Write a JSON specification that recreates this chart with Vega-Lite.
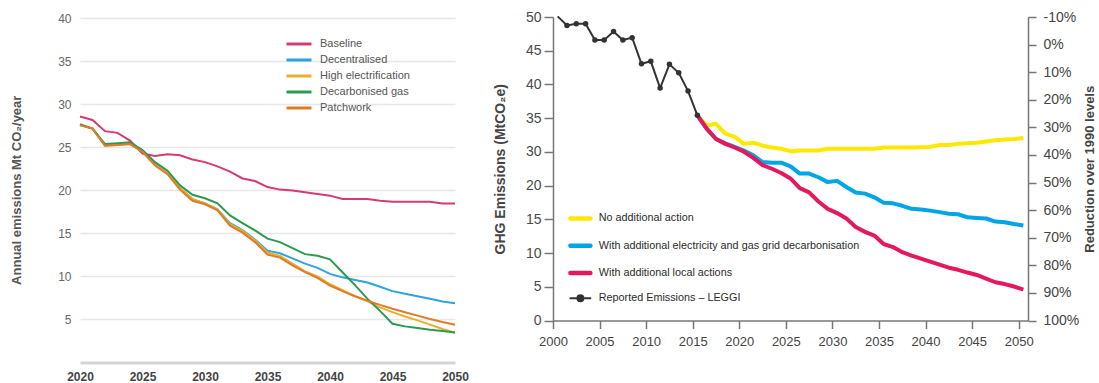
{
  "$schema": "https://vega.github.io/schema/vega-lite/v6.json",
  "padding": {"left": 10, "top": 10, "right": 0, "bottom": 0},
  "background": "white",
  "config": {
    "view": {"stroke": null},
    "font": "Liberation Sans",
    "concat": {"spacing": 24}
  },
  "resolve": {"scale": {"color": "independent"}, "legend": {"color": "independent"}},
  "datasets": {
    "scenarios": [
      {"year":2020,"scenario":"Baseline","value":28.6},{"year":2021,"scenario":"Baseline","value":28.2},{"year":2022,"scenario":"Baseline","value":26.9},{"year":2023,"scenario":"Baseline","value":26.7},{"year":2024,"scenario":"Baseline","value":25.8},{"year":2025,"scenario":"Baseline","value":24.3},{"year":2026,"scenario":"Baseline","value":24.0},{"year":2027,"scenario":"Baseline","value":24.2},{"year":2028,"scenario":"Baseline","value":24.1},{"year":2029,"scenario":"Baseline","value":23.6},{"year":2030,"scenario":"Baseline","value":23.3},{"year":2031,"scenario":"Baseline","value":22.8},{"year":2032,"scenario":"Baseline","value":22.2},{"year":2033,"scenario":"Baseline","value":21.4},{"year":2034,"scenario":"Baseline","value":21.1},{"year":2035,"scenario":"Baseline","value":20.4},{"year":2036,"scenario":"Baseline","value":20.1},{"year":2037,"scenario":"Baseline","value":20.0},{"year":2038,"scenario":"Baseline","value":19.8},{"year":2039,"scenario":"Baseline","value":19.6},{"year":2040,"scenario":"Baseline","value":19.4},{"year":2041,"scenario":"Baseline","value":19.0},{"year":2042,"scenario":"Baseline","value":19.0},{"year":2043,"scenario":"Baseline","value":19.0},{"year":2044,"scenario":"Baseline","value":18.8},{"year":2045,"scenario":"Baseline","value":18.7},{"year":2046,"scenario":"Baseline","value":18.7},{"year":2047,"scenario":"Baseline","value":18.7},{"year":2048,"scenario":"Baseline","value":18.7},{"year":2049,"scenario":"Baseline","value":18.5},{"year":2050,"scenario":"Baseline","value":18.5},
      {"year":2020,"scenario":"Decentralised","value":27.6},{"year":2021,"scenario":"Decentralised","value":27.2},{"year":2022,"scenario":"Decentralised","value":25.3},{"year":2023,"scenario":"Decentralised","value":25.4},{"year":2024,"scenario":"Decentralised","value":25.5},{"year":2025,"scenario":"Decentralised","value":24.6},{"year":2026,"scenario":"Decentralised","value":23.0},{"year":2027,"scenario":"Decentralised","value":22.0},{"year":2028,"scenario":"Decentralised","value":20.3},{"year":2029,"scenario":"Decentralised","value":19.0},{"year":2030,"scenario":"Decentralised","value":18.5},{"year":2031,"scenario":"Decentralised","value":17.8},{"year":2032,"scenario":"Decentralised","value":16.2},{"year":2033,"scenario":"Decentralised","value":15.4},{"year":2034,"scenario":"Decentralised","value":14.3},{"year":2035,"scenario":"Decentralised","value":13.0},{"year":2036,"scenario":"Decentralised","value":12.7},{"year":2037,"scenario":"Decentralised","value":12.1},{"year":2038,"scenario":"Decentralised","value":11.5},{"year":2039,"scenario":"Decentralised","value":11.0},{"year":2040,"scenario":"Decentralised","value":10.3},{"year":2041,"scenario":"Decentralised","value":9.9},{"year":2042,"scenario":"Decentralised","value":9.6},{"year":2043,"scenario":"Decentralised","value":9.3},{"year":2044,"scenario":"Decentralised","value":8.8},{"year":2045,"scenario":"Decentralised","value":8.3},{"year":2046,"scenario":"Decentralised","value":8.0},{"year":2047,"scenario":"Decentralised","value":7.7},{"year":2048,"scenario":"Decentralised","value":7.4},{"year":2049,"scenario":"Decentralised","value":7.1},{"year":2050,"scenario":"Decentralised","value":6.9},
      {"year":2020,"scenario":"High electrification","value":27.6},{"year":2021,"scenario":"High electrification","value":27.2},{"year":2022,"scenario":"High electrification","value":25.2},{"year":2023,"scenario":"High electrification","value":25.3},{"year":2024,"scenario":"High electrification","value":25.4},{"year":2025,"scenario":"High electrification","value":24.6},{"year":2026,"scenario":"High electrification","value":23.0},{"year":2027,"scenario":"High electrification","value":22.0},{"year":2028,"scenario":"High electrification","value":20.3},{"year":2029,"scenario":"High electrification","value":19.0},{"year":2030,"scenario":"High electrification","value":18.5},{"year":2031,"scenario":"High electrification","value":17.8},{"year":2032,"scenario":"High electrification","value":16.1},{"year":2033,"scenario":"High electrification","value":15.3},{"year":2034,"scenario":"High electrification","value":14.2},{"year":2035,"scenario":"High electrification","value":12.8},{"year":2036,"scenario":"High electrification","value":12.4},{"year":2037,"scenario":"High electrification","value":11.5},{"year":2038,"scenario":"High electrification","value":10.6},{"year":2039,"scenario":"High electrification","value":10.0},{"year":2040,"scenario":"High electrification","value":9.1},{"year":2041,"scenario":"High electrification","value":8.4},{"year":2042,"scenario":"High electrification","value":7.7},{"year":2043,"scenario":"High electrification","value":7.1},{"year":2044,"scenario":"High electrification","value":6.4},{"year":2045,"scenario":"High electrification","value":5.85},{"year":2046,"scenario":"High electrification","value":5.35},{"year":2047,"scenario":"High electrification","value":4.9},{"year":2048,"scenario":"High electrification","value":4.4},{"year":2049,"scenario":"High electrification","value":3.9},{"year":2050,"scenario":"High electrification","value":3.45},
      {"year":2020,"scenario":"Decarbonised gas","value":27.7},{"year":2021,"scenario":"Decarbonised gas","value":27.2},{"year":2022,"scenario":"Decarbonised gas","value":25.4},{"year":2023,"scenario":"Decarbonised gas","value":25.5},{"year":2024,"scenario":"Decarbonised gas","value":25.6},{"year":2025,"scenario":"Decarbonised gas","value":24.7},{"year":2026,"scenario":"Decarbonised gas","value":23.3},{"year":2027,"scenario":"Decarbonised gas","value":22.3},{"year":2028,"scenario":"Decarbonised gas","value":20.6},{"year":2029,"scenario":"Decarbonised gas","value":19.5},{"year":2030,"scenario":"Decarbonised gas","value":19.1},{"year":2031,"scenario":"Decarbonised gas","value":18.5},{"year":2032,"scenario":"Decarbonised gas","value":17.1},{"year":2033,"scenario":"Decarbonised gas","value":16.2},{"year":2034,"scenario":"Decarbonised gas","value":15.35},{"year":2035,"scenario":"Decarbonised gas","value":14.4},{"year":2036,"scenario":"Decarbonised gas","value":14.0},{"year":2037,"scenario":"Decarbonised gas","value":13.3},{"year":2038,"scenario":"Decarbonised gas","value":12.6},{"year":2039,"scenario":"Decarbonised gas","value":12.4},{"year":2040,"scenario":"Decarbonised gas","value":12.0},{"year":2041,"scenario":"Decarbonised gas","value":10.5},{"year":2042,"scenario":"Decarbonised gas","value":9.0},{"year":2043,"scenario":"Decarbonised gas","value":7.4},{"year":2044,"scenario":"Decarbonised gas","value":6.0},{"year":2045,"scenario":"Decarbonised gas","value":4.5},{"year":2046,"scenario":"Decarbonised gas","value":4.2},{"year":2047,"scenario":"Decarbonised gas","value":4.0},{"year":2048,"scenario":"Decarbonised gas","value":3.8},{"year":2049,"scenario":"Decarbonised gas","value":3.65},{"year":2050,"scenario":"Decarbonised gas","value":3.5},
      {"year":2020,"scenario":"Patchwork","value":27.6},{"year":2021,"scenario":"Patchwork","value":27.2},{"year":2022,"scenario":"Patchwork","value":25.2},{"year":2023,"scenario":"Patchwork","value":25.3},{"year":2024,"scenario":"Patchwork","value":25.4},{"year":2025,"scenario":"Patchwork","value":24.5},{"year":2026,"scenario":"Patchwork","value":22.9},{"year":2027,"scenario":"Patchwork","value":21.9},{"year":2028,"scenario":"Patchwork","value":20.1},{"year":2029,"scenario":"Patchwork","value":18.8},{"year":2030,"scenario":"Patchwork","value":18.4},{"year":2031,"scenario":"Patchwork","value":17.7},{"year":2032,"scenario":"Patchwork","value":15.9},{"year":2033,"scenario":"Patchwork","value":15.1},{"year":2034,"scenario":"Patchwork","value":14.0},{"year":2035,"scenario":"Patchwork","value":12.55},{"year":2036,"scenario":"Patchwork","value":12.2},{"year":2037,"scenario":"Patchwork","value":11.3},{"year":2038,"scenario":"Patchwork","value":10.5},{"year":2039,"scenario":"Patchwork","value":9.85},{"year":2040,"scenario":"Patchwork","value":8.95},{"year":2041,"scenario":"Patchwork","value":8.3},{"year":2042,"scenario":"Patchwork","value":7.7},{"year":2043,"scenario":"Patchwork","value":7.2},{"year":2044,"scenario":"Patchwork","value":6.7},{"year":2045,"scenario":"Patchwork","value":6.25},{"year":2046,"scenario":"Patchwork","value":5.85},{"year":2047,"scenario":"Patchwork","value":5.45},{"year":2048,"scenario":"Patchwork","value":5.05},{"year":2049,"scenario":"Patchwork","value":4.7},{"year":2050,"scenario":"Patchwork","value":4.4}
    ],
    "ghg": [
      {"year":2015,"series":"No additional action","mt":33.8},{"year":2016,"series":"No additional action","mt":32.1},{"year":2017,"series":"No additional action","mt":32.4},{"year":2018,"series":"No additional action","mt":30.8},{"year":2019,"series":"No additional action","mt":30.3},{"year":2020,"series":"No additional action","mt":29.1},{"year":2021,"series":"No additional action","mt":29.3},{"year":2022,"series":"No additional action","mt":28.8},{"year":2023,"series":"No additional action","mt":28.5},{"year":2024,"series":"No additional action","mt":28.3},{"year":2025,"series":"No additional action","mt":27.9},{"year":2026,"series":"No additional action","mt":28.0},{"year":2027,"series":"No additional action","mt":28.0},{"year":2028,"series":"No additional action","mt":28.0},{"year":2029,"series":"No additional action","mt":28.3},{"year":2030,"series":"No additional action","mt":28.3},{"year":2031,"series":"No additional action","mt":28.3},{"year":2032,"series":"No additional action","mt":28.3},{"year":2033,"series":"No additional action","mt":28.3},{"year":2034,"series":"No additional action","mt":28.3},{"year":2035,"series":"No additional action","mt":28.5},{"year":2036,"series":"No additional action","mt":28.5},{"year":2037,"series":"No additional action","mt":28.5},{"year":2038,"series":"No additional action","mt":28.5},{"year":2039,"series":"No additional action","mt":28.55},{"year":2040,"series":"No additional action","mt":28.6},{"year":2041,"series":"No additional action","mt":28.9},{"year":2042,"series":"No additional action","mt":28.9},{"year":2043,"series":"No additional action","mt":29.1},{"year":2044,"series":"No additional action","mt":29.2},{"year":2045,"series":"No additional action","mt":29.3},{"year":2046,"series":"No additional action","mt":29.5},{"year":2047,"series":"No additional action","mt":29.7},{"year":2048,"series":"No additional action","mt":29.8},{"year":2049,"series":"No additional action","mt":29.9},{"year":2050,"series":"No additional action","mt":30.05},
      {"year":2015,"series":"With additional electricity and gas grid decarbonisation","mt":33.8},{"year":2016,"series":"With additional electricity and gas grid decarbonisation","mt":31.6},{"year":2017,"series":"With additional electricity and gas grid decarbonisation","mt":29.9},{"year":2018,"series":"With additional electricity and gas grid decarbonisation","mt":29.2},{"year":2019,"series":"With additional electricity and gas grid decarbonisation","mt":28.6},{"year":2020,"series":"With additional electricity and gas grid decarbonisation","mt":28.0},{"year":2021,"series":"With additional electricity and gas grid decarbonisation","mt":27.2},{"year":2022,"series":"With additional electricity and gas grid decarbonisation","mt":26.1},{"year":2023,"series":"With additional electricity and gas grid decarbonisation","mt":26.0},{"year":2024,"series":"With additional electricity and gas grid decarbonisation","mt":26.0},{"year":2025,"series":"With additional electricity and gas grid decarbonisation","mt":25.4},{"year":2026,"series":"With additional electricity and gas grid decarbonisation","mt":24.2},{"year":2027,"series":"With additional electricity and gas grid decarbonisation","mt":24.2},{"year":2028,"series":"With additional electricity and gas grid decarbonisation","mt":23.6},{"year":2029,"series":"With additional electricity and gas grid decarbonisation","mt":22.8},{"year":2030,"series":"With additional electricity and gas grid decarbonisation","mt":23.0},{"year":2031,"series":"With additional electricity and gas grid decarbonisation","mt":22.0},{"year":2032,"series":"With additional electricity and gas grid decarbonisation","mt":21.1},{"year":2033,"series":"With additional electricity and gas grid decarbonisation","mt":20.9},{"year":2034,"series":"With additional electricity and gas grid decarbonisation","mt":20.3},{"year":2035,"series":"With additional electricity and gas grid decarbonisation","mt":19.4},{"year":2036,"series":"With additional electricity and gas grid decarbonisation","mt":19.3},{"year":2037,"series":"With additional electricity and gas grid decarbonisation","mt":18.9},{"year":2038,"series":"With additional electricity and gas grid decarbonisation","mt":18.4},{"year":2039,"series":"With additional electricity and gas grid decarbonisation","mt":18.3},{"year":2040,"series":"With additional electricity and gas grid decarbonisation","mt":18.1},{"year":2041,"series":"With additional electricity and gas grid decarbonisation","mt":17.85},{"year":2042,"series":"With additional electricity and gas grid decarbonisation","mt":17.6},{"year":2043,"series":"With additional electricity and gas grid decarbonisation","mt":17.5},{"year":2044,"series":"With additional electricity and gas grid decarbonisation","mt":17.0},{"year":2045,"series":"With additional electricity and gas grid decarbonisation","mt":16.9},{"year":2046,"series":"With additional electricity and gas grid decarbonisation","mt":16.8},{"year":2047,"series":"With additional electricity and gas grid decarbonisation","mt":16.3},{"year":2048,"series":"With additional electricity and gas grid decarbonisation","mt":16.2},{"year":2049,"series":"With additional electricity and gas grid decarbonisation","mt":15.9},{"year":2050,"series":"With additional electricity and gas grid decarbonisation","mt":15.65},
      {"year":2015,"series":"With additional local actions","mt":33.8},{"year":2016,"series":"With additional local actions","mt":31.6},{"year":2017,"series":"With additional local actions","mt":29.9},{"year":2018,"series":"With additional local actions","mt":29.1},{"year":2019,"series":"With additional local actions","mt":28.5},{"year":2020,"series":"With additional local actions","mt":27.8},{"year":2021,"series":"With additional local actions","mt":26.8},{"year":2022,"series":"With additional local actions","mt":25.6},{"year":2023,"series":"With additional local actions","mt":25.0},{"year":2024,"series":"With additional local actions","mt":24.3},{"year":2025,"series":"With additional local actions","mt":23.4},{"year":2026,"series":"With additional local actions","mt":21.8},{"year":2027,"series":"With additional local actions","mt":21.1},{"year":2028,"series":"With additional local actions","mt":19.6},{"year":2029,"series":"With additional local actions","mt":18.4},{"year":2030,"series":"With additional local actions","mt":17.7},{"year":2031,"series":"With additional local actions","mt":16.8},{"year":2032,"series":"With additional local actions","mt":15.4},{"year":2033,"series":"With additional local actions","mt":14.6},{"year":2034,"series":"With additional local actions","mt":14.0},{"year":2035,"series":"With additional local actions","mt":12.6},{"year":2036,"series":"With additional local actions","mt":12.1},{"year":2037,"series":"With additional local actions","mt":11.25},{"year":2038,"series":"With additional local actions","mt":10.7},{"year":2039,"series":"With additional local actions","mt":10.2},{"year":2040,"series":"With additional local actions","mt":9.7},{"year":2041,"series":"With additional local actions","mt":9.2},{"year":2042,"series":"With additional local actions","mt":8.7},{"year":2043,"series":"With additional local actions","mt":8.35},{"year":2044,"series":"With additional local actions","mt":7.9},{"year":2045,"series":"With additional local actions","mt":7.5},{"year":2046,"series":"With additional local actions","mt":6.9},{"year":2047,"series":"With additional local actions","mt":6.3},{"year":2048,"series":"With additional local actions","mt":6.0},{"year":2049,"series":"With additional local actions","mt":5.6},{"year":2050,"series":"With additional local actions","mt":5.1},
      {"year":2000,"series":"Reported Emissions – LEGGI","mt":50.1},{"year":2001,"series":"Reported Emissions – LEGGI","mt":48.6},{"year":2002,"series":"Reported Emissions – LEGGI","mt":48.9},{"year":2003,"series":"Reported Emissions – LEGGI","mt":48.9},{"year":2004,"series":"Reported Emissions – LEGGI","mt":46.2},{"year":2005,"series":"Reported Emissions – LEGGI","mt":46.2},{"year":2006,"series":"Reported Emissions – LEGGI","mt":47.6},{"year":2007,"series":"Reported Emissions – LEGGI","mt":46.2},{"year":2008,"series":"Reported Emissions – LEGGI","mt":46.6},{"year":2009,"series":"Reported Emissions – LEGGI","mt":42.3},{"year":2010,"series":"Reported Emissions – LEGGI","mt":42.7},{"year":2011,"series":"Reported Emissions – LEGGI","mt":38.3},{"year":2012,"series":"Reported Emissions – LEGGI","mt":42.2},{"year":2013,"series":"Reported Emissions – LEGGI","mt":40.8},{"year":2014,"series":"Reported Emissions – LEGGI","mt":37.8},{"year":2015,"series":"Reported Emissions – LEGGI","mt":33.8}
    ],
    "frame": [{"year": 2000, "reduction": -0.1}, {"year": 2050, "reduction": 1.0}]
  },
  "hconcat": [
    {
      "width": 375,
      "height": 345.5,
      "data": {"name": "scenarios"},
      "mark": {"type": "line", "strokeWidth": 2, "clip": false},
      "encoding": {
        "x": {
          "field": "year", "type": "quantitative",
          "scale": {"domain": [2020, 2050], "nice": false, "zero": false},
          "axis": {
            "title": null, "values": [2020, 2025, 2030, 2035, 2040, 2045, 2050], "format": "d",
            "grid": false, "ticks": false, "labelFlush": false, "domainColor": "#d4d4d4", "domainWidth": 3,
            "labelFontWeight": "bold", "labelFontSize": 12, "labelColor": "#444", "labelPadding": 9
          }
        },
        "y": {
          "field": "value", "type": "quantitative",
          "scale": {"domain": [0, 40.17], "nice": false},
          "axis": {
            "title": "Annual emissions Mt CO₂/year", "titleFontSize": 13, "titleFontWeight": "bold",
            "titleColor": "#555", "titlePadding": 34,
            "values": [5, 10, 15, 20, 25, 30, 35, 40], "grid": true, "gridColor": "#e7e7e7", "gridWidth": 1.5,
            "domain": false, "ticks": false, "labelFontSize": 12, "labelColor": "#666", "labelPadding": 9
          }
        },
        "color": {
          "field": "scenario", "type": "nominal",
          "scale": {
            "domain": ["Baseline", "Decentralised", "High electrification", "Decarbonised gas", "Patchwork"],
            "range": ["#d63a73", "#2ea3dc", "#e6b02a", "#2c9a4e", "#df7b29"]
          },
          "legend": {
            "title": null, "orient": "none", "legendX": 209, "legendY": 17,
            "symbolType": "M-1.47,0H1.47", "symbolSize": 289, "symbolStrokeWidth": 3,
            "labelFontSize": 11, "labelColor": "#555", "labelOffset": 11, "rowPadding": 0
          }
        }
      }
    },
    {
      "width": 475,
      "height": 303.5,
      "layer": [
        {
          "data": {"name": "frame"},
          "mark": {"type": "point", "opacity": 0},
          "encoding": {
            "x": {
              "field": "year", "type": "quantitative",
              "scale": {"domain": [2000, 2051], "nice": false, "zero": false},
              "axis": {
                "title": null, "values": [2000, 2005, 2010, 2015, 2020, 2025, 2030, 2035, 2040, 2045, 2050],
                "format": "d", "grid": false, "labelOverlap": false, "labelFlush": false,
                "domainColor": "#777", "domainWidth": 1.5, "tickColor": "#777", "tickWidth": 1.5, "tickSize": 8,
                "labelFontSize": 13, "labelColor": "#444", "labelPadding": 7
              }
            },
            "y": {
              "field": "reduction", "type": "quantitative",
              "scale": {"domain": [-0.1, 1.0], "reverse": true, "nice": false, "zero": false},
              "axis": {
                "orient": "right", "title": "Reduction over 1990 levels", "titleFontSize": 13,
                "titleFontWeight": "bold", "titleColor": "#444", "titlePadding": 18, "titleAngle": 270,
                "values": [-0.1, 0, 0.1, 0.2, 0.3, 0.4, 0.5, 0.6, 0.7, 0.8, 0.9, 1.0],
                "labelExpr": "round(datum.value * 100) + '%'", "labelFlush": false,
                "grid": false, "domainColor": "#777", "domainWidth": 1.5, "tickColor": "#777", "tickWidth": 1.5,
                "tickSize": 8, "labelPadding": 7, "labelFontSize": 14, "labelColor": "#444"
              }
            }
          }
        },
        {
          "layer": [
            {
              "data": {"name": "ghg"},
              "transform": [{"filter": "datum.series !== 'Reported Emissions – LEGGI'"}],
              "mark": {"type": "line", "strokeWidth": 4, "strokeJoin": "round"},
              "encoding": {}
            },
            {
              "data": {"name": "ghg"},
              "transform": [{"filter": "datum.series === 'Reported Emissions – LEGGI'"}],
              "mark": {"type": "line", "strokeWidth": 2},
              "encoding": {}
            },
            {
              "data": {"name": "ghg"},
              "transform": [{"filter": "datum.series === 'Reported Emissions – LEGGI' && datum.year > 2000"}],
              "mark": {"type": "point", "filled": true, "size": 30, "opacity": 1},
              "encoding": {}
            }
          ],
          "encoding": {
            "x": {
              "field": "year", "type": "ordinal",
              "scale": {
                "type": "band", "paddingInner": 0, "paddingOuter": 0,
                "domain": [2000,2001,2002,2003,2004,2005,2006,2007,2008,2009,2010,2011,2012,2013,2014,2015,2016,2017,2018,2019,2020,2021,2022,2023,2024,2025,2026,2027,2028,2029,2030,2031,2032,2033,2034,2035,2036,2037,2038,2039,2040,2041,2042,2043,2044,2045,2046,2047,2048,2049,2050]
              },
              "axis": null
            },
            "y": {
              "field": "mt", "type": "quantitative",
              "scale": {"domain": [0, 50], "nice": false},
              "axis": {
                "title": "GHG Emissions (MtCO₂e)", "titleFontSize": 14, "titleFontWeight": "bold",
                "titleColor": "#444", "titlePadding": 18, "labelFlush": false,
                "values": [0, 5.5556, 11.1111, 16.6667, 22.2222, 27.7778, 33.3333, 38.8889, 44.4444, 50],
                "labelExpr": "['0','5','10','15','20','30','35','40','45','50'][round(datum.value * 9 / 50)]",
                "grid": false, "domainColor": "#777", "domainWidth": 1.5, "tickColor": "#777", "tickWidth": 1.5,
                "tickSize": 9, "labelPadding": 3, "labelFontSize": 14, "labelColor": "#4a4a4a"
              }
            },
            "color": {
              "field": "series", "type": "nominal",
              "scale": {
                "domain": ["No additional action", "With additional electricity and gas grid decarbonisation", "With additional local actions", "Reported Emissions – LEGGI"],
                "range": ["#fde800", "#00a5e5", "#e5185d", "#333333"]
              },
              "legend": {
                "title": null, "orient": "none", "legendX": 22, "legendY": 196,
                "symbolType": "stroke", "symbolSize": 400, "symbolStrokeWidth": 4.5,
                "labelFont": "Liberation Sans",
                "labelFontSize": 10.8, "labelColor": "#2b2b2b", "labelOffset": 13, "rowPadding": 8.3, "labelLimit": 400,
                "encode": {
                  "symbols": {
                    "update": {
                      "shape": {"signal": "datum.value === 'Reported Emissions – LEGGI' ? 'M-1,0H1M-0.3,0A0.3,0.3,0,1,1,0.3,0A0.3,0.3,0,1,1,-0.3,0Z' : 'stroke'"},
                      "fill": {"signal": "datum.value === 'Reported Emissions – LEGGI' ? '#333333' : 'transparent'"},
                      "strokeWidth": {"signal": "datum.value === 'Reported Emissions – LEGGI' ? 2 : 4.5"},
                      "strokeCap": {"value": "round"}
                    }
                  }
                }
              }
            }
          }
        }
      ],
      "resolve": {"scale": {"x": "independent", "y": "independent"}, "axis": {"x": "independent", "y": "independent"}}
    }
  ]
}
